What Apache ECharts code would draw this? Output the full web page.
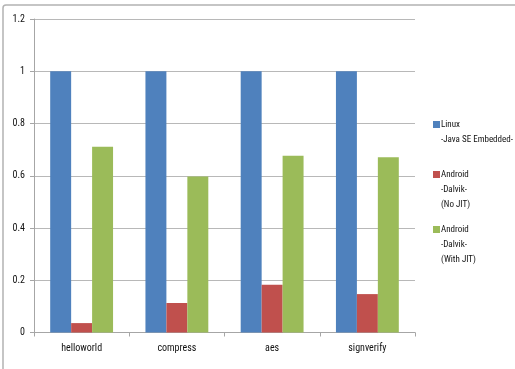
<!DOCTYPE html>
<html>
<head>
<meta charset="utf-8">
<script src="https://cdn.jsdelivr.net/npm/echarts@6/dist/echarts.min.js"></script>
<style>
  html, body { margin: 0; padding: 0; background: #ffffff; }
  #chart { width: 515px; height: 369px; }
</style>
</head>
<body>
<div id="chart"></div>
<script>
// Benchmarks (x axis)
const categories = ['helloworld', 'compress', 'aes', 'signverify'];

// Relative execution time per runtime
const linuxJavaSE = [1, 1, 1, 1];
const dalvikNoJit = [0.036, 0.113, 0.183, 0.147];
const dalvikWithJit = [0.711, 0.597, 0.677, 0.671];

// Series names and the lines shown for each in the legend
const seriesNames = ['Linux -Java SE Embedded-', 'Android -Dalvik- (No JIT)', 'Android -Dalvik- (With JIT)'];
const legendLines = [
  ['Linux', '-Java SE Embedded-'],
  ['Android', '-Dalvik-', '(No JIT)'],
  ['Android', '-Dalvik-', '(With JIT)']
];
const seriesValues = [linuxJavaSE, dalvikNoJit, dalvikWithJit];
const colors = ['#4f81bd', '#c0504d', '#9bbb59'];

const font = '"Roboto Condensed", "Liberation Sans", sans-serif';
const lineH = 15;
// vertical centre of each legend entry's first line
const legendFirstLineY = [124.5, 174.5, 229.5];

const chart = echarts.init(document.getElementById('chart'), null, { renderer: 'canvas' });

// Each legend entry is its own component; blank lines above keep the swatch beside the first line
const legends = seriesNames.map((name, i) => {
  const lines = legendLines[i];
  const pad = Array(lines.length - 1).fill(' ');
  const total = pad.length + lines.length;
  return {
    orient: 'vertical',
    left: 433,
    top: legendFirstLineY[i] - (total * lineH) / 2,
    padding: 0,
    itemWidth: 7,
    itemHeight: 7,
    itemGap: 0,
    icon: 'rect',
    selectedMode: false,
    data: [name],
    formatter: () => pad.concat(lines).join('\n'),
    textStyle: { fontFamily: font, fontSize: 9, color: '#111', lineHeight: lineH, padding: [0, 0, 0, -4] }
  };
});

chart.setOption({
  animation: false,
  color: colors,
  grid: { left: 34, right: 100, top: 19, bottom: 36.5, containLabel: false },
  legend: legends,
  graphic: [{
    type: 'rect',
    shape: { x: 3, y: 5, width: 700, height: 600, r: 3 },
    style: { fill: 'none', stroke: '#b3b3b3', lineWidth: 1.5 },
    silent: true
  }],
  xAxis: {
    type: 'category',
    data: categories,
    axisLine: { lineStyle: { color: '#a6a6a6', width: 1 } },
    axisTick: { show: true, alignWithLabel: false, length: 4, lineStyle: { color: '#a6a6a6' } },
    axisLabel: { fontFamily: font, fontSize: 10, color: '#111', margin: 11 }
  },
  yAxis: {
    type: 'value',
    min: 0,
    max: 1.2,
    interval: 0.2,
    axisLine: { show: true, lineStyle: { color: '#a6a6a6', width: 1 } },
    axisTick: { show: true, length: 4, lineStyle: { color: '#a6a6a6' } },
    axisLabel: {
      fontFamily: font, fontSize: 10, color: '#111', margin: 9,
      formatter: v => String(Math.round(v * 10) / 10)
    },
    splitLine: { lineStyle: { color: '#b8b8b8', width: 1 } }
  },
  series: seriesNames.map((name, i) => ({
    name: name,
    type: 'bar',
    data: seriesValues[i],
    barGap: '0%',
    barCategoryGap: '34%',
    itemStyle: { color: colors[i] }
  }))
});
</script>
</body>
</html>
